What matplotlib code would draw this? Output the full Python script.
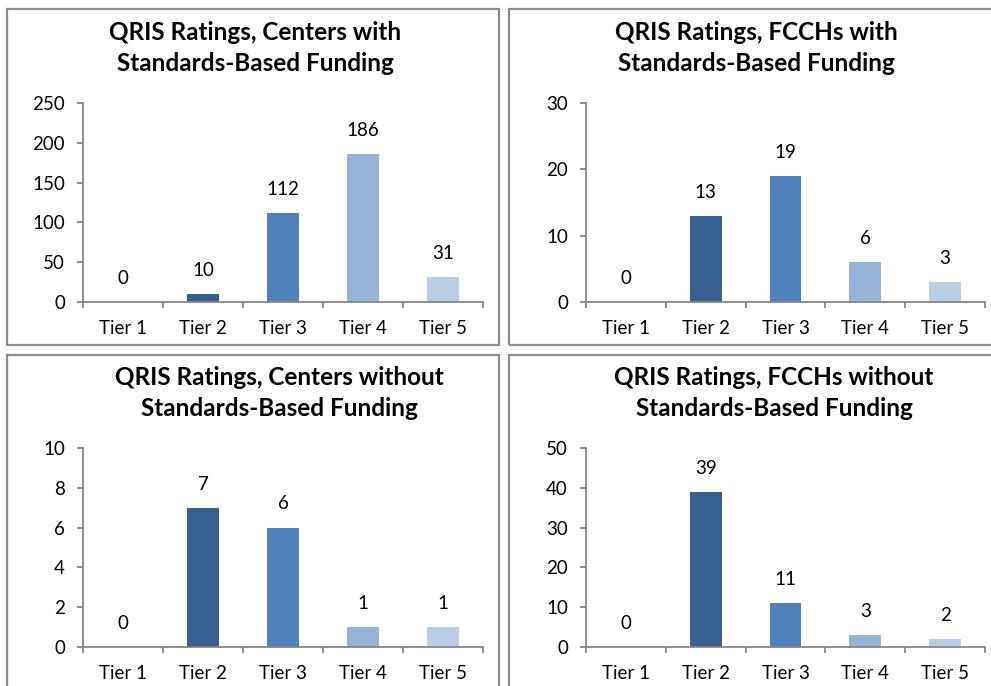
import matplotlib
matplotlib.use("Agg")
import matplotlib.pyplot as plt
from matplotlib.patches import Rectangle

W, H = 991, 686

tiers = ["Tier 1", "Tier 2", "Tier 3", "Tier 4", "Tier 5"]
tier_colors = ["#4F81BD", "#376092", "#4F81BD", "#95B3D7", "#B9CDE5"]

centers_with = [0, 10, 112, 186, 31]
fcchs_with = [0, 13, 19, 6, 3]
centers_without = [0, 7, 6, 1, 1]
fcchs_without = [0, 39, 11, 3, 2]

titles = [
    "QRIS Ratings, Centers with\nStandards-Based Funding",
    "QRIS Ratings, FCCHs with\nStandards-Based Funding",
    "QRIS Ratings, Centers without\nStandards-Based Funding",
    "QRIS Ratings, FCCHs without\nStandards-Based Funding",
]
y_max = [250, 30, 10, 50]
y_step = [50, 10, 2, 10]

plt.rcParams['font.family'] = ['Lato', 'DejaVu Sans']

fig = plt.figure(figsize=(W / 100, H / 100), dpi=100)

# panel borders, pixel boxes (left, top, right, bottom)
borders = [(7, 9, 499, 345), (509, 9, 1005, 345),
           (7, 355, 499, 700), (509, 355, 1005, 700)]
# axes boxes in pixels (left, top, right, bottom)
axes_px = [(83, 103, 483, 302), (586, 103, 985, 302),
           (83, 448, 483, 647), (586, 448, 985, 647)]
title_px = [(255, 48), (756, 48), (279, 393), (774, 393)]

for (l, t, r, b) in borders:
    fig.patches.append(Rectangle((l / W, 1 - b / H), (r - l) / W, (b - t) / H,
                                 transform=fig.transFigure, fill=False,
                                 edgecolor="#8C8C8C", linewidth=1.6))

data = [centers_with, fcchs_with, centers_without, fcchs_without]

for i, vals in enumerate(data):
    l, t, r, b = axes_px[i]
    ax = fig.add_axes([l / W, 1 - b / H, (r - l) / W, (b - t) / H])
    x = list(range(len(tiers)))
    bars = ax.bar(x, vals, width=0.4, color=tier_colors)
    for xi, v in zip(x, vals):
        ax.annotate(str(v), (xi, v), xytext=(0, 17), textcoords="offset points",
                    ha="center", va="center", fontsize=13.5, color="black")
    ax.set_xlim(-0.5, 4.5)
    ax.set_ylim(0, y_max[i])
    ax.set_yticks(range(0, y_max[i] + 1, y_step[i]))
    ax.set_xticks(x)
    ax.set_xticklabels(tiers)
    ax.set_xticks([k - 0.5 for k in range(6)], minor=True)
    ax.tick_params(axis="x", which="major", length=0, pad=13, labelsize=13.5)
    ax.tick_params(axis="x", which="minor", length=4, width=1.3, color="#868686")
    ax.tick_params(axis="y", length=4, width=1.3, color="#868686", pad=9,
                   labelsize=13.5)
    for s in ["top", "right"]:
        ax.spines[s].set_visible(False)
    for s in ["left", "bottom"]:
        ax.spines[s].set_color("#868686")
        ax.spines[s].set_linewidth(1.3)
    ax.patch.set_alpha(0)

    tx, ty = title_px[i]
    fig.text(tx / W, 1 - ty / H, titles[i], ha="center", va="center",
             fontsize=17.5, fontweight="bold", linespacing=1.42)

fig.savefig("out.png", dpi=100)
